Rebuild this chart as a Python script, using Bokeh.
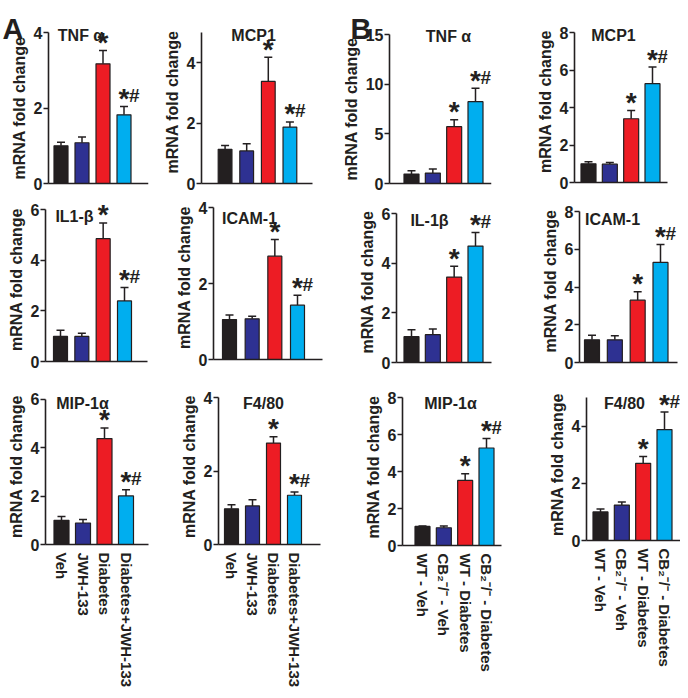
from bokeh.plotting import figure
from bokeh.layouts import column, row
from bokeh.models import ColumnDataSource, Whisker, TeeHead, FixedTicker, Label, Range1d
from bokeh.core.properties import value
from bokeh.embed import file_html
from bokeh.resources import INLINE

FONT = "Liberation Sans"
INK = "#231f20"

# ---------------- data ----------------
groups_A = ["Veh", "JWH-133", "Diabetes", "Diabetes+JWH-133"]
groups_B = ["WT - Veh", "CB\u2082\u207b/\u207b - Veh", "WT - Diabetes", "CB\u2082\u207b/\u207b - Diabetes"]
bar_colors = ["#231f20", "#2e3192", "#ed1c24", "#00aeef"]
sig_star = ["", "", "*", "*"]
sig_hash = ["", "", "", "#"]

# Panel A (JWH-133 treatment)
a_tnf = [1.00, 1.08, 3.17, 1.82]
a_tnf_err = [0.09, 0.15, 0.35, 0.22]
a_mcp1 = [1.13, 1.08, 3.38, 1.87]
a_mcp1_err = [0.13, 0.24, 0.80, 0.17]
a_il1b = [0.99, 0.99, 4.85, 2.39]
a_il1b_err = [0.24, 0.13, 0.62, 0.53]
a_icam = [1.05, 1.07, 2.72, 1.43]
a_icam_err = [0.12, 0.07, 0.44, 0.26]
a_mip = [1.00, 0.89, 4.38, 2.01]
a_mip_err = [0.16, 0.14, 0.44, 0.25]
a_f480 = [0.97, 1.05, 2.76, 1.34]
a_f480_err = [0.11, 0.17, 0.17, 0.09]

# Panel B (CB2 knockout)
b_tnf = [0.95, 1.05, 5.72, 8.24]
b_tnf_err = [0.34, 0.40, 0.71, 1.36]
b_mcp1 = [1.00, 0.98, 3.40, 5.27]
b_mcp1_err = [0.11, 0.09, 0.44, 0.89]
b_il1b = [1.04, 1.12, 3.44, 4.69]
b_il1b_err = [0.28, 0.23, 0.44, 0.54]
b_icam = [1.20, 1.20, 3.30, 5.30]
b_icam_err = [0.25, 0.22, 0.45, 0.95]
b_mip = [1.03, 0.96, 3.52, 5.27]
b_mip_err = [0.03, 0.09, 0.36, 0.51]
b_f480 = [1.00, 1.24, 2.70, 3.88]
b_f480_err = [0.10, 0.11, 0.24, 0.61]

ticks_0_4 = [0, 2, 4]
ticks_0_6 = [0, 2, 4, 6]
ticks_0_8 = [0, 2, 4, 6, 8]
ticks_0_15 = [0, 5, 10, 15]


def make_panel(vals, errs, ticks, top_val, title, groups, geo, letter=None):
    # geo: pixel layout of the panel (positions, not data)
    (fig_l, fig_r, fig_t, fig_b, FL, FR, Bz, At, c1, c4, bw, tx, ty) = geo
    W = fig_r - fig_l
    H = fig_b - fig_t
    sy = (Bz - At) / top_val
    if letter is None:
        T = max(fig_t, At - 12)          # frame top
        FLf = FL                          # frame left = axis position
        Bf = Bz                           # frame bottom = zero line
    else:
        T = fig_t                         # frame covers the letter corner
        FLf = fig_l
        Bf = fig_b
    y_start = -(Bf - Bz) / sy
    y_end = (Bz - T) / sy
    s = (c4 - c1) / 3.0
    x_start = 1 - (c1 - FLf) / s
    x_end = 1 + (FR - c1) / s

    def xd(px):
        return x_start + (px - FLf) / s

    def yd(py):
        return (Bz - py) / sy

    p = figure(width=W, height=H, x_range=Range1d(x_start, x_end),
               y_range=Range1d(y_start, y_end), output_backend="svg",
               toolbar_location=None, min_border_left=FLf - fig_l,
               min_border_right=fig_r - FR, min_border_top=T - fig_t,
               min_border_bottom=fig_b - Bf)
    p.frame_align = False
    p.outline_line_color = None
    p.grid.visible = False
    p.background_fill_color = "white"
    p.border_fill_color = "white"

    xs = [1, 2, 3, 4]
    src = ColumnDataSource(dict(
        x=xs, top=vals, upper=[v + e for v, e in zip(vals, errs)],
        color=bar_colors, star=sig_star, hash=sig_hash))

    p.vbar(x="x", top="top", bottom=0, width=bw / s, fill_color="color",
           line_color=INK, line_width=1.2, source=src)
    wh = Whisker(source=src, base="x", upper="upper", lower="top",
                 dimension="height", line_color=INK, line_width=1.5,
                 upper_head=TeeHead(size=8, line_color=INK, line_width=1.5),
                 lower_head=None)
    p.add_layout(wh)

    p.text(x="x", y="upper", text="star", source=src, text_align="center",
           text_baseline="alphabetic", y_offset=-8, text_font=value(FONT),
           text_font_style="bold", text_font_size="28px", text_color=INK)
    p.text(x="x", y="upper", text="hash", source=src, text_align="left",
           text_baseline="alphabetic", x_offset=5, y_offset=-11,
           text_font=value(FONT), text_font_style="bold",
           text_font_size="19px", text_color=INK)

    p.add_layout(Label(x=xd(tx), y=yd(ty), text=title, text_align="center",
                       text_baseline="alphabetic", text_font=FONT,
                       text_font_style="bold", text_font_size="16px",
                       text_color=INK))
    if letter is not None:
        p.add_layout(Label(x=xd(letter[1]), y=yd(letter[2]), text=letter[0],
                           text_align="left", text_baseline="alphabetic",
                           text_font=FONT, text_font_style="bold",
                           text_font_size="29px", text_color=INK))

    # y axis
    ya = p.yaxis[0]
    ya.ticker = FixedTicker(ticks=ticks)
    ya.bounds = (0, top_val)
    ya.axis_label = "mRNA fold change"
    ya.axis_label_text_font = FONT
    ya.axis_label_text_font_style = "bold"
    ya.axis_label_text_font_size = "16px"
    ya.axis_label_text_color = INK
    ya.axis_label_standoff = 3
    ya.major_label_text_font = FONT
    ya.major_label_text_font_style = "bold"
    ya.major_label_text_font_size = "16px"
    ya.major_label_text_color = INK
    ya.major_label_standoff = 1
    ya.major_tick_out = 5
    ya.major_tick_in = 0
    ya.minor_tick_line_color = None
    ya.axis_line_width = 1.6
    ya.axis_line_color = INK
    ya.major_tick_line_width = 1.6
    ya.major_tick_line_color = INK

    # x axis
    xa = p.xaxis[0]
    xa.bounds = (xd(FL), x_end)
    if letter is not None:
        ya.fixed_location = xd(FL)
        xa.fixed_location = 0
    xa.axis_line_width = 1.6
    xa.axis_line_color = INK
    xa.major_tick_line_color = None
    xa.minor_tick_line_color = None
    xa.major_tick_out = 0
    xa.major_tick_in = 0
    if groups is None:
        xa.ticker = FixedTicker(ticks=[])
        xa.major_label_text_font_size = "0px"
    else:
        xa.ticker = FixedTicker(ticks=xs)
        xa.major_label_overrides = {i + 1: g for i, g in enumerate(groups)}
        xa.major_label_orientation = "vertical"
        xa.major_label_standoff = 8
        xa.major_label_text_font = FONT
        xa.major_label_text_font_style = "bold"
        xa.major_label_text_font_size = "15px"
        xa.major_label_text_color = INK
    return p


# column edges (px) and row edges (px) of the page
C = [0, 160, 344, 520, 680]
R = [0, 195, 388, 690]

# geo: fig_l, fig_r, fig_t, fig_b, axis_x, axis_end, zero_y, top_y, first_bar_c, last_bar_c, bar_w, title_x, title_y
pA1 = make_panel(a_tnf, a_tnf_err, ticks_0_4, 4, "TNF \u03b1", None,
                 (C[0], C[1], R[0], R[1], 48, 148, 183, 32, 60.5, 123.5, 14, 80, 35),
                 letter=("A", 2, 28))
pA2 = make_panel(a_mcp1, a_mcp1_err, ticks_0_4, 5, "MCP1", None,
                 (C[1], C[2], R[0], R[1], 199, 312, 183, 32, 223, 289, 14, 252, 35))
pB1 = make_panel(b_tnf, b_tnf_err, ticks_0_15, 15, "TNF \u03b1", None,
                 (C[2], C[3], R[0], R[1], 389, 491, 183, 34, 411, 475, 15, 448, 36),
                 letter=("B", 350, 28))
pB2 = make_panel(b_mcp1, b_mcp1_err, ticks_0_8, 8, "MCP1", None,
                 (C[3], C[4], R[0], R[1], 574, 667, 182, 32, 588, 652, 15, 613, 35))

pA3 = make_panel(a_il1b, a_il1b_err, ticks_0_6, 6, "IL1-\u03b2", None,
                 (C[0], C[1], R[1], R[2], 45, 147, 361, 209, 60, 124, 14, 74, 216))
pA4 = make_panel(a_icam, a_icam_err, ticks_0_4, 4, "ICAM-1", None,
                 (C[1], C[2], R[1], R[2], 213, 322, 359, 207, 229, 297, 14, 249, 218))
pB3 = make_panel(b_il1b, b_il1b_err, ticks_0_6, 6, "IL-1\u03b2", None,
                 (C[2], C[3], R[1], R[2], 396, 491, 362, 213, 411, 475, 15, 429, 220))
pB4 = make_panel(b_icam, b_icam_err, ticks_0_8, 8, "ICAM-1", None,
                 (C[3], C[4], R[1], R[2], 579, 677, 362, 211, 591.5, 660, 15, 612, 219))

pA5 = make_panel(a_mip, a_mip_err, ticks_0_6, 6, "MIP-1\u03b1", groups_A,
                 (C[0], C[1], R[2], R[3], 45, 148, 545, 399, 61, 125.5, 15, 82, 403))
pA6 = make_panel(a_f480, a_f480_err, ticks_0_4, 4, "F4/80", groups_A,
                 (C[1], C[2], R[2], R[3], 218, 320, 544, 397, 231, 294, 14, 263, 403))
pB5 = make_panel(b_mip, b_mip_err, ticks_0_8, 8, "MIP-1\u03b1", groups_B,
                 (C[2], C[3], R[2], R[3], 402, 501, 545, 397, 422, 486, 15, 450, 403))
pB6 = make_panel(b_f480, b_f480_err, ticks_0_4, 5, "F4/80", groups_B,
                 (C[3], C[4], R[2], R[3], 586, 680, 540, 397, 600, 664, 15, 624, 403))

layout = column(row(pA1, pA2, pB1, pB2),
                row(pA3, pA4, pB3, pB4),
                row(pA5, pA6, pB5, pB6))

open("out.html", "w").write(file_html(layout, INLINE, title="mRNA fold change"))
